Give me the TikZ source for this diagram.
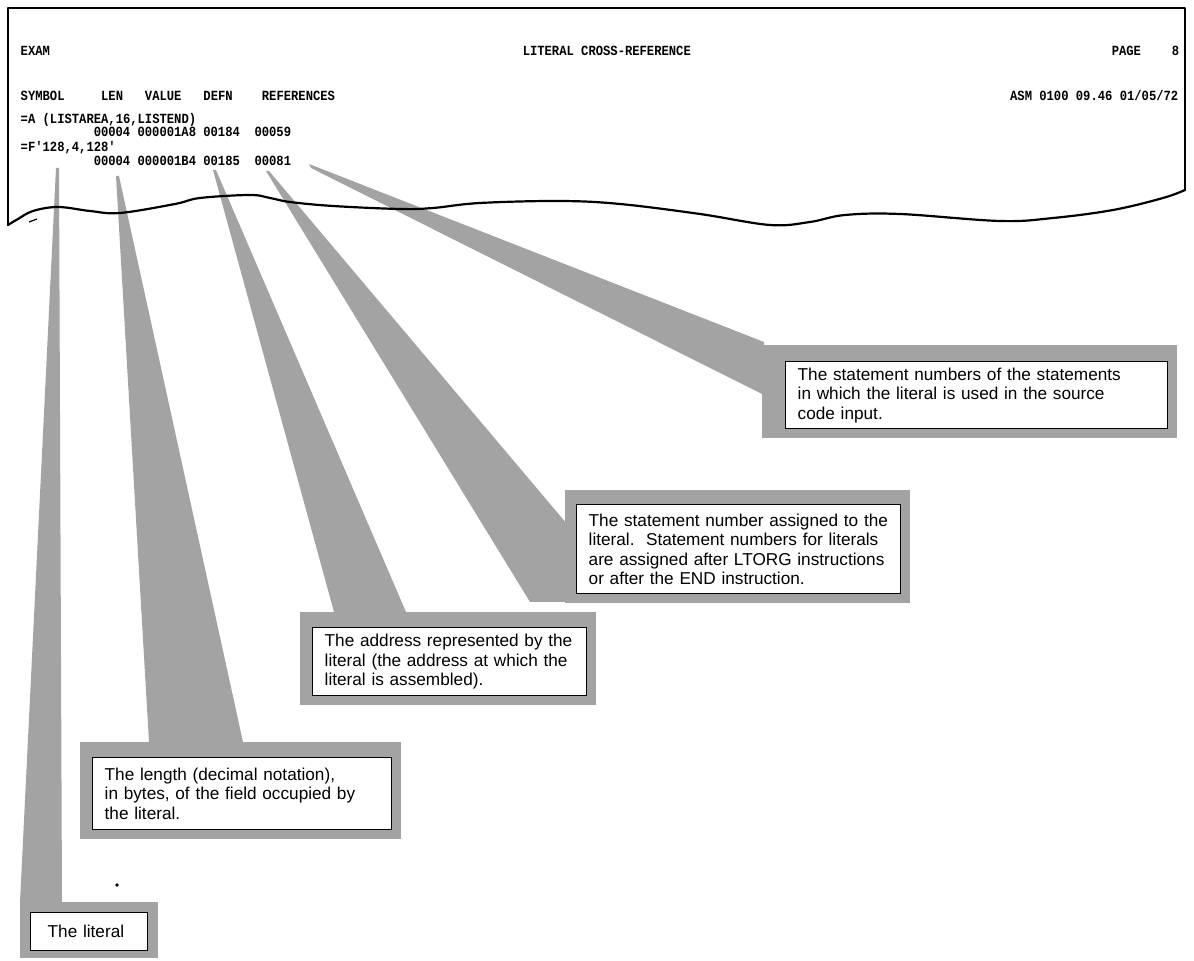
\documentclass[tikz,border=0pt]{standalone}
\usepackage{fontspec}
\setmainfont{Liberation Sans}
\newfontfamily\listfont[FakeStretch=0.87]{Liberation Mono}
\usetikzlibrary{backgrounds,calc}
\definecolor{screen}{gray}{0.64}
\tikzset{every picture/.style={line width=0.75pt}}
\tikzset{
  listing/.style={anchor=base west, inner sep=0pt, font=\listfont\bfseries\fontsize{7}{7}\selectfont},
  callout/.style={draw, fill=white, line width=0.7pt, anchor=north west, align=left,
    inner xsep=6pt, inner ysep=0pt, font=\fontsize{8.6}{9.75}\selectfont},
  frame/.style={fill=screen},
  beam/.style={fill=screen},
  paper/.style={line width=1.1pt, line join=round, line cap=round}
}

\begin{document}
\begin{tikzpicture}[x=0.5pt,y=-0.5pt]
      \useasboundingbox (0,0) rectangle (1194,961);
      \node [listing] (exam) at (20,56) {EXAM};
      \node [listing] (title) at (522,56) {LITERAL CROSS-REFERENCE};
      \node [listing] (page) at (1111,56) {PAGE};
      \node [listing, anchor=base east] (pgno) at (1180,56) {8};
      \node [listing] (heads) at (20,101) {SYMBOL\ \ \ \ \ LEN\ \ \ VALUE\ \ \ DEFN\ \ \ \ REFERENCES};
      \node [listing, anchor=base east] (stamp) at (1179,101) {ASM 0100 09.46 01/05/72};
      \node [listing] (lita) at (20,124) {=A (LISTAREA,16,LISTEND)};
      \node [listing] (rowa) at (93,137) {00004 000001A8 00184\ \ 00059};
      \node [listing] (litf) at (20,152) {=F'128,4,128'};
      \node [listing] (rowf) at (93,166) {00004 000001B4 00185\ \ 00081};

      \coordinate (litpt) at (56,168);
      \coordinate (lenpt) at (116,176);
      \coordinate (valpt) at (213,170);
      \coordinate (defnpt) at (266,171);
      \coordinate (refpt) at (309,164);

      \node [callout, text width=179pt, minimum height=33.5pt] (refbox) at (785,361)
            {The statement numbers of the statements\\in which the literal is used in the source\\code input.};
      \node [callout, text width=150pt, minimum height=44.5pt] (defnbox) at (576,504)
            {The statement number assigned to the\\literal.\ \ Statement numbers for literals\\are assigned after LTORG instructions\\or after the END instruction.};
      \node [callout, text width=125pt, minimum height=34pt] (valbox) at (312,627)
            {The address represented by the\\literal (the address at which the\\literal is assembled).};
      \node [callout, text width=137.5pt, minimum height=36pt] (lenbox) at (92,757)
            {The length (decimal notation),\\in bytes, of the field occupied by\\the literal.};
      \node [callout, inner xsep=8.5pt, text width=41.5pt, minimum height=19pt] (litbox) at (30,912)
            {The literal};

      \begin{scope}[on background layer]
      \fill [frame] ($(refbox.north west)+(-23,-16)$) rectangle ($(refbox.south east)+(9,9)$);
      \fill [frame] ($(defnbox.north west)+(-11,-14)$) rectangle ($(defnbox.south east)+(9,9)$);
      \fill [frame] ($(valbox.north west)+(-12,-15)$) rectangle ($(valbox.south east)+(9,9)$);
      \fill [frame] ($(lenbox.north west)+(-12,-15)$) rectangle ($(lenbox.south east)+(9,9)$);
      \fill [frame] ($(litbox.north west)+(-10,-10)$) rectangle ($(litbox.south east)+(10,7)$);
      \fill [beam] (litpt) -- ++(3,0) -- ($(litbox.north west)+(32,-10)$) -- ($(litbox.north west)+(-10,-10)$) -- cycle;
      \fill [beam] (lenpt) -- ++(3,0) -- ($(lenbox.north west)+(151,-15)$) -- ($(lenbox.north west)+(57,-15)$) -- cycle;
      \fill [beam] (valpt) -- ++(3,0) -- ($(valbox.north west)+(94,-15)$) -- ($(valbox.north west)+(22,-15)$) -- cycle;
      \fill [beam] (defnpt) -- ++(3,0) -- ($(defnbox.north west)+(-9,20)$) -- ($(defnbox.north west)+(-9,98)$)
            -- ($(defnbox.north west)+(-46,98)$) -- cycle;
      \fill [beam] (refpt) -- ($(refbox.north west)+(-21,-19)$) -- ($(refbox.north west)+(-21,33)$) -- ++(-2,0)
            -- ($(refpt)+(2,4)$) -- cycle;
      \end{scope}

      \draw [paper] (8,225) -- (8,8) -- (1185,8) -- (1185,190);
      \draw [paper] plot [smooth, tension=0.6] coordinates {(8,225) (18,219) (33,211) (58,207) (90,211) (120,213)
            (175,204) (200,198) (250,195) (270,198) (290,202) (333,206) (400,209) (433,208) (480,203) (560,201)
            (620,204) (700,214) (770,225) (810,222) (845,215) (900,214) (1000,221) (1053,218) (1113,210)
            (1163,198) (1185,190)};
      \draw [line width=0.6pt] (29,222) -- (37,219);
      \fill (117,885) circle (1.8);
\end{tikzpicture}
\end{document}
